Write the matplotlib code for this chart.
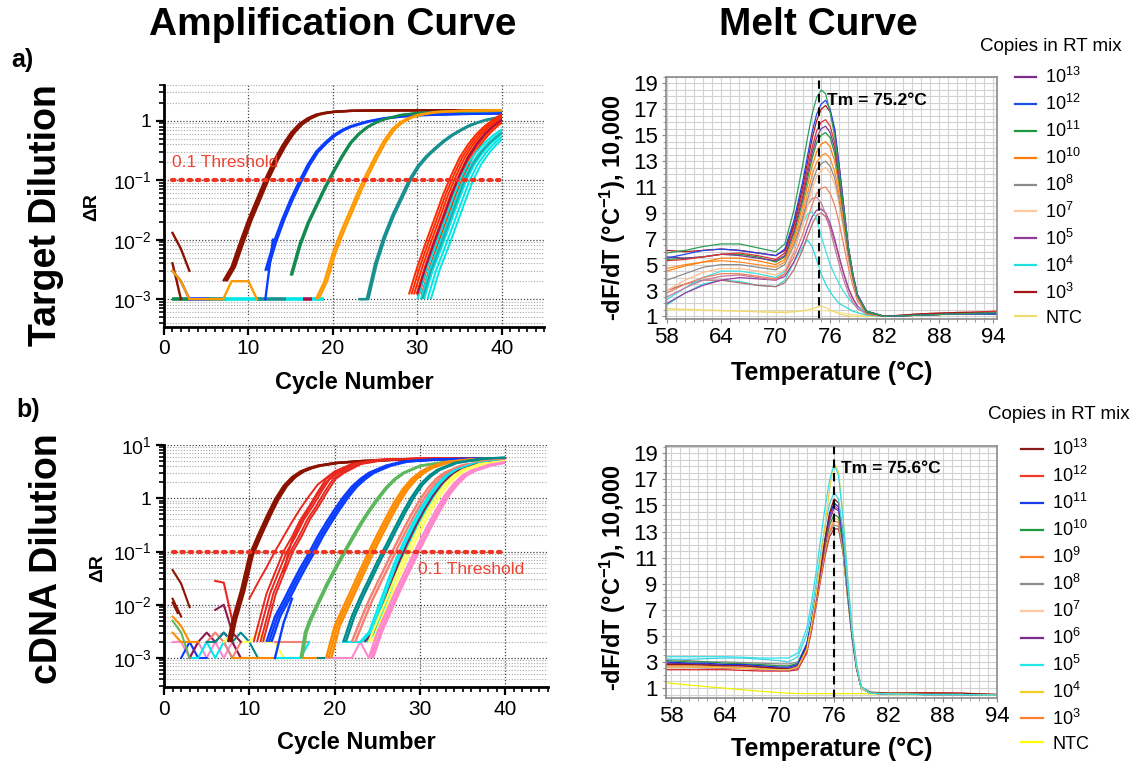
import numpy as np
import matplotlib
matplotlib.use("Agg")
import matplotlib.pyplot as plt
from matplotlib.lines import Line2D
from matplotlib.patches import Rectangle
from matplotlib.ticker import (MultipleLocator, FixedLocator, FixedFormatter,
                               LogLocator, NullFormatter)

plt.rcParams.update({
    "font.family": ["Liberation Sans", "DejaVu Sans"],
    "mathtext.fontset": "custom",
    "mathtext.rm": "Liberation Sans",
    "mathtext.bf": "Liberation Sans:bold",
    "mathtext.default": "regular",
})

# ---------- a) target dilution: amplification (cycle -> dR), replicate Ct offsets ----------
a13_cyc = [7, 8, 9, 10, 11, 12, 13, 14, 15, 16, 17, 18, 19, 20, 22, 25, 30, 40]
a13_dr = [0.002, 0.0035, 0.009, 0.022, 0.048, 0.105, 0.21, 0.38, 0.62, 0.88, 1.1, 1.27, 1.36, 1.42, 1.47, 1.49, 1.5, 1.5]
a13_rep = [0.0, 0.2, 0.4]

a12_cyc = [12, 13, 14, 15, 16, 17, 18, 19, 20, 21, 22, 24, 26, 28, 30, 35, 40]
a12_dr = [0.003, 0.009, 0.022, 0.048, 0.095, 0.18, 0.3, 0.42, 0.56, 0.69, 0.8, 0.97, 1.1, 1.18, 1.24, 1.3, 1.33]
a12_rep = [0.0, 0.25]
a12_start_cyc = [12, 12.9]
a12_start_dr = [0.001, 0.01]

a11_cyc = [15, 16, 17, 18, 19, 20, 21, 22, 23, 24, 25, 26, 28, 30, 33, 36, 40]
a11_dr = [0.0025, 0.008, 0.019, 0.038, 0.075, 0.14, 0.25, 0.42, 0.6, 0.78, 0.93, 1.06, 1.25, 1.35, 1.42, 1.45, 1.47]
a11_rep = [0.0, 0.15]

a10_cyc = [18, 19, 20, 21, 22, 23, 24, 25, 26, 27, 28, 29, 30, 32, 35, 40]
a10_dr = [0.001, 0.002, 0.006, 0.014, 0.03, 0.065, 0.13, 0.25, 0.45, 0.72, 0.95, 1.12, 1.25, 1.4, 1.47, 1.5]
a10_rep = [0.0, 0.3]

a8_cyc = [23, 24, 24.5, 25, 26, 27, 28, 29, 30, 31, 32, 33, 34, 35, 36, 37, 38, 40]
a8_dr = [0.001, 0.001, 0.002, 0.004, 0.011, 0.025, 0.05, 0.1, 0.17, 0.25, 0.34, 0.45, 0.57, 0.69, 0.82, 0.93, 1.03, 1.18]
a8_rep = [0.0, 0.2]

a5_cyc = [29, 30, 31, 32, 33, 34, 35, 36, 37, 38, 39, 40]
a5_dr = [0.0012, 0.0035, 0.009, 0.022, 0.055, 0.12, 0.24, 0.4, 0.6, 0.82, 1.05, 1.3]
a5_rep = [0.0, 0.3, 0.6, 0.9, 1.2, 1.5]
a5_crimson_rep = [1.0]

a4_cyc = [30, 31, 32, 33, 34, 35, 36, 37, 38, 39, 40]
a4_dr = [0.001, 0.003, 0.007, 0.017, 0.042, 0.1, 0.19, 0.3, 0.43, 0.57, 0.72]
a4_rep = [0.0, 0.4, 0.8, 1.2, 1.6]
a4_teal_rep = [0.6]

# early-cycle noise, target dilution
anoise_darkred1 = ([1, 2, 3], [0.013, 0.007, 0.003])
anoise_darkred2 = ([1, 2], [0.004, 0.001])
anoise_blue = ([1, 2, 3], [0.003, 0.002, 0.001])
anoise_orange = ([1, 2, 3, 7, 8, 10, 11], [0.003, 0.002, 0.001, 0.001, 0.002, 0.002, 0.001])
a_floor = 0.001
aflat_green = [1, 3]
aflat_blue = [3, 5.5]
aflat_teal = [5, 7.5]
aflat_cyan = [7, 11.5]
aflat_teal2 = [11, 14.5]
aflat_cyan2 = [14.5, 16.5]
aflat_crimson = [16.5, 17.5]
aflat_cyan3 = [17.5, 19]

# ---------- b) cDNA dilution: amplification ----------
b13_cyc = [7.5, 8, 9, 10, 11, 12, 13, 14, 15, 16, 17, 18, 20, 23, 27, 32, 40]
b13_dr = [0.002, 0.005, 0.018, 0.085, 0.2, 0.45, 0.95, 1.7, 2.5, 3.2, 3.7, 4.1, 4.6, 5.0, 5.3, 5.45, 5.5]
b13_rep = [0.0, 0.2, 0.4]

b12_cyc = [10.5, 11, 12, 13, 14, 15, 16, 17, 18, 19, 20, 22, 25, 30, 40]
b12_dr = [0.002, 0.004, 0.016, 0.04, 0.1, 0.19, 0.4, 0.7, 1.3, 2.3, 3.0, 4.4, 5.3, 5.6, 5.7]
b12_rep = [0.0, 0.4, 0.8, 1.1]
b12_x1_cyc = [10, 11, 12, 13, 14, 15, 16, 17, 18, 20, 22, 25, 30, 40]
b12_x1_dr = [0.013, 0.026, 0.05, 0.1, 0.19, 0.36, 0.65, 1.1, 1.8, 3.2, 4.4, 5.2, 5.6, 5.7]
b12_x2_cyc = [14, 14.6, 15, 16, 17, 18, 19, 20, 22, 25, 30, 40]
b12_x2_dr = [0.04, 0.1, 0.16, 0.35, 0.65, 1.2, 2.0, 2.8, 4.2, 5.2, 5.6, 5.7]

b11_cyc = [12, 13, 14, 15, 16, 17, 18, 19, 20, 21, 22, 23, 24, 26, 28, 32, 40]
b11_dr = [0.002, 0.006, 0.012, 0.025, 0.05, 0.095, 0.19, 0.35, 0.62, 1.05, 1.65, 2.3, 3.0, 4.1, 4.9, 5.4, 5.6]
b11_rep = [0.0, 0.3, 0.6]
b11_x1_cyc = [13, 14, 15]
b11_x1_dr = [0.001, 0.0045, 0.013]

b10_cyc = [16, 16.5, 17, 18, 19, 20, 21, 22, 23, 24, 25, 26, 27, 28, 30, 33, 36, 40]
b10_dr = [0.001, 0.003, 0.005, 0.011, 0.024, 0.048, 0.095, 0.18, 0.34, 0.6, 1.0, 1.6, 2.3, 3.0, 4.1, 4.8, 5.1, 5.2]
b10_rep = [0.0, 0.2]

b9_cyc = [19, 19.5, 20, 21, 22, 23, 24, 25, 26, 27, 28, 29, 30, 31, 33, 36, 40]
b9_dr = [0.001, 0.002, 0.004, 0.009, 0.02, 0.045, 0.1, 0.21, 0.43, 0.85, 1.5, 2.3, 3.1, 3.8, 4.8, 5.4, 5.6]
b9_rep = [0.0, 0.3, 0.6]

b8_cyc = [21, 22, 23, 24, 25, 26, 27, 28, 29, 30, 31, 32, 34, 37, 40]
b8_dr = [0.002, 0.006, 0.014, 0.03, 0.065, 0.13, 0.27, 0.55, 1.05, 1.8, 2.6, 3.4, 4.6, 5.5, 5.8]
b8_rep = [0.0, 0.3]

b7_cyc = [22, 23, 24, 25, 26, 27, 28, 29, 30, 31, 32, 33, 35, 38, 40]
b7_dr = [0.002, 0.005, 0.012, 0.026, 0.055, 0.12, 0.25, 0.5, 0.95, 1.6, 2.4, 3.1, 4.2, 5.0, 5.2]
b7_rep = [0.0, 0.4]

b5_cyc = [23, 24, 25, 26, 27, 28, 29, 30, 31, 32, 33, 34, 36, 38, 40]
b5_dr = [0.002, 0.003, 0.008, 0.022, 0.06, 0.14, 0.3, 0.6, 1.1, 1.8, 2.6, 3.3, 4.3, 4.8, 5.0]
b5_rep = [0.0, 0.3, 0.7]
b6_rep = [0.5]

b4_cyc = [24, 25, 26, 27, 28, 29, 30, 31, 32, 33, 34, 35, 37, 40]
b4_dr = [0.002, 0.005, 0.012, 0.03, 0.07, 0.15, 0.32, 0.63, 1.15, 1.9, 2.7, 3.4, 4.4, 5.0]
b4_rep = [0.0, 0.4]

b3_cyc = [24, 25, 26, 27, 28, 29, 30, 31, 32, 33, 34, 35, 36, 38, 40]
b3_dr = [0.001, 0.003, 0.007, 0.016, 0.035, 0.075, 0.16, 0.33, 0.65, 1.2, 1.9, 2.7, 3.3, 4.2, 4.8]
b3_rep = [0.0, 0.3, 0.5]

# early-cycle noise, cDNA dilution
bnoise_darkred1 = ([1, 2, 3], [0.045, 0.025, 0.009])
bnoise_darkred2 = ([1, 2], [0.013, 0.006])
bnoise_darkred3 = ([1, 1.6], [0.011, 0.007])
bnoise_red = ([6, 7, 8], [0.028, 0.026, 0.005])
bnoise_orange1 = ([1, 2, 3, 4], [0.006, 0.004, 0.002, 0.002])
bnoise_orange2 = ([1, 2, 3, 4], [0.003, 0.002, 0.002, 0.002])
bnoise_orange3 = ([8, 9, 10, 11, 17, 18], [0.001, 0.001, 0.001, 0.001, 0.001, 0.001])
bnoise_green = ([1, 2, 3], [0.005, 0.003, 0.001])
bnoise_blue = ([2, 3, 4, 5], [0.001, 0.002, 0.001, 0.001])
bnoise_pink1 = ([1, 2, 3, 4, 5, 6, 7, 8, 9, 10], [0.002, 0.002, 0.001, 0.002, 0.001, 0.002, 0.001, 0.002, 0.001, 0.001])
bnoise_pink2 = ([19, 22, 23, 24, 25], [0.001, 0.001, 0.002, 0.001, 0.002])
bnoise_cyan1 = ([3, 4, 5, 6, 7, 8, 9, 10], [0.001, 0.001, 0.002, 0.001, 0.002, 0.001, 0.001, 0.001])
bnoise_cyan2 = ([13, 14, 15, 16, 17], [0.001, 0.001, 0.001, 0.001, 0.002])
bnoise_cyan3 = ([21, 22, 23, 24], [0.002, 0.002, 0.002, 0.003])
bnoise_magenta1 = ([3, 4, 5, 6, 7, 8, 9], [0.001, 0.002, 0.003, 0.002, 0.003, 0.002, 0.001])
bnoise_magenta2 = ([6, 7, 8, 9], [0.008, 0.01, 0.003, 0.002])
bnoise_salmon1 = ([5, 6, 7, 8, 9], [0.002, 0.003, 0.002, 0.001, 0.002])
bnoise_salmon2 = ([13, 14, 15, 16, 17], [0.002, 0.002, 0.002, 0.002, 0.002])
bnoise_teal1 = ([5, 6, 7, 8, 9, 10, 11], [0.002, 0.002, 0.003, 0.002, 0.003, 0.002, 0.001])
bnoise_teal2 = ([18, 21], [0.001, 0.001])
bnoise_yellow = ([7, 8, 9, 10, 11, 12, 13, 14, 15], [0.002, 0.003, 0.002, 0.002, 0.003, 0.002, 0.002, 0.001, 0.001])

threshold = 0.1
threshold_span = [1, 40]

# ---------- a) melt curve (temperature -> -dF/dT) ----------
ma_T = [58, 60, 62, 64, 66, 68, 70, 71, 72, 73, 73.5, 74, 74.5, 75, 75.5, 76, 76.5,
        77, 77.5, 78, 78.5, 79, 80, 82, 86, 90, 94.4]
ma_green = [5.9, 6.1, 6.4, 6.6, 6.6, 6.3, 6.0, 6.6, 9.2, 12.8, 14.8, 16.6, 17.9, 18.5, 18.2, 16.8, 14.9, 12.2, 9.2, 6.3, 4.2, 2.6, 1.4, 1.0, 1.1, 1.2, 1.3]
ma_blue = [5.5, 5.8, 6.1, 6.2, 6.1, 5.9, 5.7, 6.2, 8.4, 11.5, 13.4, 15.2, 16.6, 17.4, 17.7, 17.0, 15.5, 12.6, 9.5, 6.4, 4.3, 2.7, 1.4, 1.0, 1.1, 1.2, 1.2]
ma_darkred = [6.1, 6.0, 6.1, 6.2, 6.1, 5.9, 5.7, 6.1, 8.1, 11.1, 12.9, 14.7, 16.1, 17.0, 17.3, 16.8, 15.4, 12.6, 9.5, 6.4, 4.3, 2.7, 1.4, 1.0, 1.2, 1.3, 1.3]
ma_red = [5.3, 5.4, 5.6, 5.8, 5.9, 5.7, 5.4, 5.9, 7.9, 10.7, 12.4, 14.0, 15.3, 16.0, 16.2, 15.7, 14.4, 12.0, 9.2, 6.3, 4.2, 2.6, 1.4, 1.0, 1.2, 1.3, 1.4]
ma_purple13 = [5.6, 5.5, 5.6, 5.8, 5.7, 5.5, 5.3, 5.7, 7.6, 10.3, 12.0, 13.6, 14.8, 15.5, 15.7, 15.2, 14.0, 11.7, 9.0, 6.2, 4.2, 2.6, 1.4, 1.0, 1.1, 1.2, 1.2]
ma_green11 = [5.4, 5.5, 5.6, 5.8, 5.8, 5.6, 5.2, 5.6, 7.4, 10.0, 11.6, 13.2, 14.4, 15.0, 15.2, 14.8, 13.6, 11.4, 8.8, 6.1, 4.1, 2.6, 1.3, 1.0, 1.1, 1.2, 1.2]
ma_orange = [4.5, 4.9, 5.2, 5.5, 5.5, 5.3, 5.0, 5.4, 7.1, 9.6, 11.1, 12.6, 13.7, 14.3, 14.5, 14.1, 13.0, 11.0, 8.6, 6.0, 4.1, 2.6, 1.3, 1.0, 1.1, 1.2, 1.4]
ma_orange2 = [4.7, 5.0, 5.2, 5.3, 5.2, 5.0, 4.8, 5.2, 6.8, 9.1, 10.5, 11.9, 12.9, 13.4, 13.6, 13.2, 12.2, 10.4, 8.2, 5.8, 4.0, 2.5, 1.3, 1.0, 1.1, 1.2, 1.4]
ma_gray = [3.8, 4.3, 4.8, 5.0, 5.0, 4.8, 4.6, 5.0, 6.5, 8.7, 10.0, 11.3, 12.3, 12.8, 13.0, 12.6, 11.7, 10.0, 7.9, 5.6, 3.9, 2.5, 1.3, 1.0, 1.1, 1.2, 1.3]
ma_peach = [3.0, 3.8, 4.4, 4.7, 4.7, 4.5, 4.2, 4.6, 6.1, 8.2, 9.5, 10.8, 11.8, 12.3, 12.5, 12.1, 11.2, 9.6, 7.6, 5.4, 3.8, 2.4, 1.3, 1.0, 1.1, 1.2, 1.3]
ma_salmon = [2.8, 3.5, 4.0, 4.3, 4.3, 4.1, 3.9, 4.3, 5.6, 7.4, 8.5, 9.6, 10.5, 10.9, 11.0, 10.5, 9.6, 8.2, 6.5, 4.8, 3.4, 2.2, 1.2, 1.0, 1.1, 1.2, 1.3]
ma_mauve = [2.5, 3.2, 3.8, 4.1, 4.2, 4.0, 3.8, 4.3, 6.0, 8.6, 9.6, 10.1, 10.2, 9.8, 8.9, 7.7, 6.3, 5.0, 3.8, 2.8, 2.1, 1.6, 1.2, 1.0, 1.1, 1.2, 1.3]
ma_purple5 = [2.0, 2.8, 3.4, 3.8, 4.0, 3.9, 3.8, 4.1, 5.2, 6.8, 7.8, 8.7, 9.2, 9.3, 9.0, 8.2, 7.0, 5.6, 4.3, 3.2, 2.4, 1.8, 1.2, 1.0, 1.1, 1.2, 1.2]
ma_brown = [3.0, 3.5, 3.8, 3.8, 3.6, 3.4, 3.3, 3.6, 4.6, 6.2, 7.2, 8.1, 8.8, 9.0, 8.7, 7.9, 6.8, 5.5, 4.3, 3.2, 2.4, 1.8, 1.2, 1.0, 1.1, 1.2, 1.2]
ma_cyan = [2.3, 3.2, 4.0, 4.5, 4.5, 4.3, 4.0, 4.5, 6.0, 8.2, 8.9, 9.1, 8.6, 7.2, 6.1, 5.0, 4.2, 3.5, 2.9, 2.4, 2.0, 1.7, 1.3, 1.0, 1.1, 1.2, 1.2]
ma_cyan2 = [1.9, 2.8, 3.5, 3.8, 3.7, 3.4, 3.3, 3.8, 5.2, 6.4, 6.9, 6.4, 5.4, 4.3, 3.5, 2.9, 2.4, 2.0, 1.8, 1.6, 1.4, 1.3, 1.1, 1.0, 1.1, 1.2, 1.2]
ma_ntc = [1.6, 1.55, 1.5, 1.45, 1.4, 1.35, 1.3, 1.3, 1.35, 1.45, 1.5, 1.6, 1.7, 1.8, 1.7, 1.5, 1.35, 1.2, 1.1, 1.05, 1.0, 1.0, 1.0, 1.0, 1.1, 1.2, 1.3]
ma_ntc2 = [1.5, 1.48, 1.46, 1.44, 1.42, 1.4, 1.38, 1.38, 1.4, 1.42, 1.44, 1.46, 1.46, 1.46, 1.44, 1.4, 1.36, 1.3, 1.25, 1.2, 1.15, 1.1, 1.05, 1.05, 1.1, 1.15, 1.2]
ma_tm_label = "Tm = 75.2°C"
ma_tm_line = 74.8

# ---------- b) melt curve ----------
mb_T = [57.5, 60, 62, 64, 66, 68, 70, 71, 72, 73, 73.5, 74, 74.5, 75, 75.5, 76, 76.5,
        77, 77.5, 78, 78.5, 79, 80, 82, 86, 90, 93.9]
mb_cyan = [3.4, 3.4, 3.4, 3.4, 3.35, 3.3, 3.3, 3.3, 3.7, 5.6, 7.5, 9.8, 12.3, 14.8, 16.9, 18.2, 17.3, 14.0, 9.5, 5.6, 2.8, 1.1, 0.6, 0.55, 0.5, 0.5, 0.45]
mb_cyan2 = [3.2, 3.2, 3.25, 3.3, 3.3, 3.2, 3.1, 3.0, 3.4, 5.1, 6.8, 8.9, 11.2, 13.4, 15.1, 16.0, 15.5, 12.8, 8.8, 5.2, 2.6, 1.0, 0.6, 0.55, 0.5, 0.5, 0.45]
mb_blue = [3.0, 2.9, 2.9, 2.8, 2.8, 2.7, 2.6, 2.6, 2.8, 4.4, 6.1, 8.1, 10.2, 12.4, 14.2, 15.2, 14.9, 12.5, 8.6, 5.1, 2.6, 1.0, 0.6, 0.55, 0.5, 0.5, 0.45]
mb_darkred = [2.8, 2.8, 2.75, 2.7, 2.7, 2.6, 2.5, 2.45, 2.6, 4.1, 5.8, 7.9, 10.1, 12.4, 14.4, 15.5, 15.2, 12.8, 8.8, 5.2, 2.6, 1.0, 0.65, 0.6, 0.6, 0.6, 0.5]
mb_purple = [2.9, 2.85, 2.8, 2.75, 2.7, 2.6, 2.5, 2.5, 2.7, 4.2, 5.9, 7.8, 9.9, 12.0, 13.8, 14.8, 14.6, 12.3, 8.5, 5.0, 2.5, 1.0, 0.6, 0.55, 0.5, 0.5, 0.45]
mb_green = [3.1, 3.0, 3.0, 2.9, 2.85, 2.8, 2.7, 2.7, 2.9, 4.3, 6.0, 7.9, 9.9, 11.8, 13.5, 14.3, 14.1, 11.9, 8.3, 4.9, 2.5, 1.0, 0.6, 0.55, 0.5, 0.5, 0.45]
mb_orange = [2.7, 2.7, 2.65, 2.6, 2.55, 2.5, 2.45, 2.4, 2.5, 3.9, 5.5, 7.4, 9.4, 11.4, 13.0, 13.8, 13.7, 11.7, 8.2, 4.9, 2.5, 1.0, 0.6, 0.6, 0.6, 0.55, 0.5]
mb_gray = [3.2, 3.1, 3.0, 3.0, 2.95, 2.9, 2.85, 2.85, 3.0, 4.4, 6.0, 7.8, 9.7, 11.4, 12.9, 13.5, 13.4, 11.4, 8.0, 4.8, 2.5, 1.1, 0.7, 0.6, 0.55, 0.5, 0.5]
mb_red = [2.4, 2.4, 2.4, 2.4, 2.35, 2.3, 2.3, 2.3, 2.4, 3.7, 5.3, 7.2, 9.2, 11.1, 12.6, 13.2, 13.2, 11.4, 8.0, 4.8, 2.4, 1.0, 0.65, 0.6, 0.65, 0.6, 0.5]
mb_peach = [2.9, 2.9, 2.85, 2.8, 2.8, 2.7, 2.6, 2.6, 2.8, 4.2, 5.8, 7.7, 9.7, 11.7, 13.3, 14.0, 13.9, 11.8, 8.3, 4.9, 2.5, 1.0, 0.6, 0.55, 0.5, 0.5, 0.45]
mb_gold = [2.6, 2.6, 2.6, 2.55, 2.5, 2.45, 2.4, 2.4, 2.6, 4.0, 5.8, 8.0, 10.6, 13.4, 16.2, 18.3, 17.6, 14.2, 9.6, 5.6, 2.7, 1.0, 0.6, 0.55, 0.5, 0.5, 0.45]
mb_magenta = [2.6, 2.6, 2.55, 2.5, 2.5, 2.4, 2.35, 2.35, 2.5, 4.0, 5.7, 7.7, 9.8, 12.0, 13.9, 15.0, 14.7, 12.4, 8.6, 5.1, 2.6, 1.0, 0.6, 0.55, 0.5, 0.5, 0.45]
mb_ntc = [1.4, 1.22, 1.1, 0.98, 0.86, 0.74, 0.64, 0.6, 0.58, 0.57, 0.57, 0.57, 0.57, 0.57, 0.57, 0.57, 0.57, 0.57, 0.57, 0.57, 0.57, 0.57, 0.55, 0.5, 0.5, 0.5, 0.45]
mb_tm_label = "Tm = 75.6°C"
mb_tm_line = 76.0

# legends
legend_title = "Copies in RT mix"
legend_a_labels = ["$10^{13}$", "$10^{12}$", "$10^{11}$", "$10^{10}$", "$10^{8}$",
                   "$10^{7}$", "$10^{5}$", "$10^{4}$", "$10^{3}$", "NTC"]
legend_b_labels = ["$10^{13}$", "$10^{12}$", "$10^{11}$", "$10^{10}$", "$10^{9}$", "$10^{8}$",
                   "$10^{7}$", "$10^{6}$", "$10^{5}$", "$10^{4}$", "$10^{3}$", "NTC"]

# ---------------------------------------------------------------- colours
C = {
    "darkred": "#8b1200", "blue": "#0a3cff", "green": "#138a50", "orange": "#ff9900",
    "teal": "#17908f", "red": "#ff2a00", "crimson": "#a8104a", "cyan": "#00e5e5",
    "teal2": "#20a8a8",
    "b_red": "#e8281e", "b_lgreen": "#5cb85c", "b_orange": "#ff8c00", "b_teal": "#008b8b",
    "b_salmon": "#f47f72", "b_cyan": "#00e8f0", "b_magenta": "#8b1a50",
    "b_yellow": "#ffff55", "b_pink": "#ff88cc",
}
legend_a_colors = ["#7d2c8c", "#1f4fe8", "#1a9a3c", "#ff7f0e", "#8c8c8c",
                   "#ffc8a0", "#8e3a96", "#22e0e0", "#a8141a", "#f0dc70"]
legend_b_colors = ["#8b1a1a", "#ee3a2a", "#1a3ce8", "#1a9a3c", "#ff7f27", "#8c8c8c",
                   "#ffc8a0", "#7d2c8c", "#22e8e8", "#f0d020", "#ff8030", "#ffff00"]

fig = plt.figure(figsize=(11.4, 7.69), dpi=100)
ax_aa = fig.add_axes([0.1439, 0.5748, 0.3333, 0.3147])
ax_ba = fig.add_axes([0.1439, 0.1066, 0.3368, 0.3147])
ax_am = fig.add_axes([0.5842, 0.5852, 0.2904, 0.3147])
ax_bm = fig.add_axes([0.5842, 0.0923, 0.2904, 0.3277])


def draw_group(ax, cyc, dr, shifts, color, lw=1.7):
    clip = Rectangle((0, 1e-6), 40, 1e3, transform=ax.transData)
    for s in shifts:
        ln, = ax.plot(np.add(cyc, s), dr, color=color, lw=lw, solid_capstyle="butt")
        ln.set_clip_path(clip)


def style_amp(ax, ylim, yticks, ylabels):
    ax.set_yscale("log")
    ax.set_xlim(0, 45)
    ax.set_ylim(*ylim)
    ax.set_xticks([0, 10, 20, 30, 40])
    ax.xaxis.set_minor_locator(MultipleLocator(1))
    ax.yaxis.set_major_locator(FixedLocator(yticks))
    ax.yaxis.set_major_formatter(FixedFormatter(ylabels))
    ax.yaxis.set_minor_locator(LogLocator(base=10, subs=np.arange(2, 10), numticks=30))
    ax.yaxis.set_minor_formatter(NullFormatter())
    for s in ["top", "right"]:
        ax.spines[s].set_visible(False)
    for s in ["left", "bottom"]:
        ax.spines[s].set_linewidth(2)
    ax.tick_params(which="major", direction="out", length=6, width=1.6, pad=3)
    ax.tick_params(which="minor", direction="out", length=3.5, width=1.2)
    ax.tick_params(axis="y", labelsize=14)
    ax.tick_params(axis="x", labelsize=15)
    ax.grid(True, which="major", linestyle=(0, (1, 1.5)), color="#444444", lw=0.9)
    ax.grid(True, which="minor", axis="y", linestyle=(0, (1, 1.5)), color="#a8a8a8", lw=0.8)
    ax.set_axisbelow(True)
    ax.set_xlabel("Cycle Number", fontsize=17, fontweight="bold")
    ax.xaxis.set_label_coords(0.5, -0.182)
    ax.set_ylabel("ΔR", fontsize=14, fontweight="bold")


def style_melt(ax, xlim, ylim):
    ax.set_xlim(*xlim)
    ax.set_ylim(*ylim)
    ax.set_xticks(range(58, 95, 6))
    ax.set_yticks(range(1, 20, 2))
    ax.xaxis.set_minor_locator(MultipleLocator(1))
    ax.yaxis.set_minor_locator(MultipleLocator(0.5))
    ax.grid(True, which="both", color="#d2d2d2", lw=0.8)
    ax.set_axisbelow(True)
    for s in ax.spines.values():
        s.set_color("#8a8a8a")
        s.set_linewidth(1.2)
    ax.tick_params(which="major", length=3, color="#8a8a8a", labelsize=16, pad=3)
    ax.tick_params(which="minor", length=2, color="#8a8a8a")
    ax.set_xlabel("Temperature (°C)", fontsize=18, fontweight="bold")
    ax.set_ylabel("-dF/dT (°C$^{-1}$), 10,000", fontsize=17, fontweight="bold")


# ---------------------------------------------------------------- a) amplification
ax = ax_aa
for xs, col in [(aflat_green, "green"), (aflat_blue, "blue"), (aflat_teal, "teal"),
                (aflat_cyan, "cyan"), (aflat_teal2, "teal"), (aflat_cyan2, "cyan"),
                (aflat_crimson, "crimson"), (aflat_cyan3, "cyan")]:
    ax.plot(xs, [a_floor, a_floor], color=C[col], lw=2.6, solid_capstyle="butt")
for (cx, vy), col in [(anoise_darkred1, "darkred"), (anoise_darkred2, "darkred"),
                      (anoise_blue, "blue"), (anoise_orange, "orange")]:
    ax.plot(cx, vy, color=C[col], lw=1.7)
draw_group(ax, a13_cyc, a13_dr, a13_rep, C["darkred"])
draw_group(ax, a12_cyc, a12_dr, a12_rep, C["blue"])
ax.plot(a12_start_cyc, a12_start_dr, color=C["blue"], lw=1.7)
draw_group(ax, a11_cyc, a11_dr, a11_rep, C["green"])
draw_group(ax, a10_cyc, a10_dr, a10_rep, C["orange"])
draw_group(ax, a8_cyc, a8_dr, a8_rep, C["teal"])
draw_group(ax, a5_cyc, a5_dr, a5_rep, C["red"], lw=1.4)
draw_group(ax, a4_cyc, a4_dr, a4_rep, C["cyan"], lw=1.4)
draw_group(ax, a4_cyc, a4_dr, a4_teal_rep, C["teal2"], lw=1.4)
draw_group(ax, a5_cyc, a5_dr, a5_crimson_rep, C["crimson"], lw=1.4)
ax.plot(threshold_span, [threshold, threshold], color="#ee3322", lw=3,
        linestyle=(0, (0.6, 1.4)), dash_capstyle="round")
ax.text(1.0, 0.2, "0.1 Threshold", color="#ee4433", fontsize=12.5, va="center", ha="left")
style_amp(ax, (3.4e-4, 4.0), [1e-3, 1e-2, 1e-1, 1],
          ["$10^{-3}$", "$10^{-2}$", "$10^{-1}$", "1"])
ax.yaxis.set_label_coords(-0.168, 0.496)

# ---------------------------------------------------------------- b) amplification
ax = ax_ba
noise_b = [(bnoise_pink1, "b_pink"), (bnoise_blue, "blue"), (bnoise_cyan1, "b_cyan"),
           (bnoise_magenta1, "b_magenta"), (bnoise_salmon1, "b_salmon"),
           (bnoise_teal1, "b_teal"), (bnoise_yellow, "b_yellow"),
           (bnoise_orange1, "b_orange"), (bnoise_orange2, "b_orange"),
           (bnoise_orange3, "b_orange"), (bnoise_green, "b_lgreen"),
           (bnoise_salmon2, "b_salmon"), (bnoise_cyan2, "b_cyan"),
           (bnoise_teal2, "b_teal"), (bnoise_pink2, "b_pink"), (bnoise_cyan3, "b_cyan"),
           (bnoise_magenta2, "b_magenta"), (bnoise_red, "b_red"),
           (bnoise_darkred1, "darkred"), (bnoise_darkred2, "darkred"),
           (bnoise_darkred3, "darkred")]
for (cx, vy), col in noise_b:
    ax.plot(cx, vy, color=C[col], lw=1.5)
draw_group(ax, b13_cyc, b13_dr, b13_rep, C["darkred"])
draw_group(ax, b12_cyc, b12_dr, b12_rep, C["b_red"], lw=1.4)
ax.plot(b12_x1_cyc, b12_x1_dr, color=C["b_red"], lw=1.4)
ax.plot(b12_x2_cyc, b12_x2_dr, color=C["b_red"], lw=1.4)
draw_group(ax, b11_cyc, b11_dr, b11_rep, C["blue"])
ax.plot(b11_x1_cyc, b11_x1_dr, color=C["blue"], lw=1.7)
draw_group(ax, b10_cyc, b10_dr, b10_rep, C["b_lgreen"])
draw_group(ax, b9_cyc, b9_dr, b9_rep, C["b_orange"])
draw_group(ax, b8_cyc, b8_dr, b8_rep, C["b_teal"])
draw_group(ax, b7_cyc, b7_dr, b7_rep, C["b_salmon"])
draw_group(ax, b5_cyc, b5_dr, b5_rep, C["b_cyan"])
draw_group(ax, b5_cyc, b5_dr, b6_rep, C["b_magenta"], lw=1.3)
draw_group(ax, b4_cyc, b4_dr, b4_rep, C["b_yellow"])
draw_group(ax, b3_cyc, b3_dr, b3_rep, C["b_pink"])
ax.plot(threshold_span, [threshold, threshold], color="#ee3322", lw=3,
        linestyle=(0, (0.6, 1.4)), dash_capstyle="round")
ax.text(29.8, 0.046, "0.1 Threshold", color="#ee4433", fontsize=12.5, va="center", ha="left")
style_amp(ax, (2.85e-4, 10), [1e-3, 1e-2, 1e-1, 1, 10],
          ["$10^{-3}$", "$10^{-2}$", "$10^{-1}$", "1", "$10^{1}$"])
ax.yaxis.set_label_coords(-0.151, 0.49)

# ---------------------------------------------------------------- a) melt
ax = ax_am
melt_a = [(ma_ntc2, "#f5e6a0"), (ma_ntc, "#f0d870"), (ma_cyan2, "#30d8d8"),
          (ma_brown, "#b86a6a"), (ma_purple5, "#9b3fa0"), (ma_cyan, "#40e0e0"),
          (ma_mauve, "#c878a0"), (ma_salmon, "#f08060"), (ma_peach, "#ffbf90"),
          (ma_gray, "#8c8c8c"), (ma_orange2, "#ff8c28"), (ma_orange, "#ff7f0e"),
          (ma_green11, "#1f9a3a"), (ma_purple13, "#7a3a96"), (ma_red, "#dd3333"),
          (ma_darkred, "#b01818"), (ma_blue, "#2244ee"), (ma_green, "#2e9e5a")]
for vals, col in melt_a:
    ax.plot(ma_T, vals, color=col, lw=0.9)
ax.axvline(ma_tm_line, color="black", lw=1.5, linestyle=(0, (4, 2.5)))
ax.text(ma_tm_line + 0.8, 17.7, ma_tm_label, fontsize=12.5, fontweight="bold",
        va="center", ha="left")
style_melt(ax, (57.9, 94.4), (0.8, 19.5))
ax.yaxis.set_label_coords(-0.115, 0.46)
ax.xaxis.set_label_coords(0.5, -0.172)

# ---------------------------------------------------------------- b) melt
ax = ax_bm
melt_b = [(mb_ntc, "#f0f000"), (mb_red, "#d42020"), (mb_gray, "#8a8a8a"),
          (mb_orange, "#ff8020"), (mb_peach, "#ffc090"), (mb_green, "#2a9a3a"),
          (mb_purple, "#7a2a8a"), (mb_magenta, "#b050a0"), (mb_blue, "#1a2ee8"),
          (mb_darkred, "#8b1a1a"), (mb_cyan2, "#40d0e0"), (mb_gold, "#f5d040"),
          (mb_cyan, "#33e0e8")]
for vals, col in melt_b:
    ax.plot(mb_T, vals, color=col, lw=0.9)
ax.axvline(mb_tm_line, color="black", lw=1.5, linestyle=(0, (4, 2.5)))
ax.text(mb_tm_line + 0.75, 17.8, mb_tm_label, fontsize=12.5, fontweight="bold",
        va="center", ha="left")
style_melt(ax, (57.45, 94.0), (0.23, 19.56))
ax.yaxis.set_label_coords(-0.115, 0.48)
ax.xaxis.set_label_coords(0.5, -0.155)

# ---------------------------------------------------------------- legends
for labels, colors, anchor, title_xy in [
        (legend_a_labels, legend_a_colors, (0.890, 0.913), (0.922, 0.9389)),
        (legend_b_labels, legend_b_colors, (0.896, 0.429), (0.929, 0.4616))]:
    handles = [Line2D([], [], color=c, lw=1.6) for c in colors]
    fig.legend(handles, labels, loc="upper left", bbox_to_anchor=anchor,
               frameon=False, fontsize=13, handlelength=1.2, handletextpad=0.5,
               labelspacing=0.38, borderaxespad=0, borderpad=0)
    fig.text(title_xy[0], title_xy[1], legend_title, fontsize=13.5,
             ha="center", va="center")

# ---------------------------------------------------------------- headings
fig.text(0.292, 0.9675, "Amplification Curve", fontsize=28, fontweight="bold",
         ha="center", va="center")
fig.text(0.7175, 0.9675, "Melt Curve", fontsize=28, fontweight="bold",
         ha="center", va="center")
fig.text(0.0193, 0.922, "a)", fontsize=18, fontweight="bold", ha="center", va="center")
fig.text(0.0246, 0.467, "b)", fontsize=18, fontweight="bold", ha="center", va="center")
fig.text(0.0404, 0.7204, "Target Dilution", fontsize=27, fontweight="bold",
         rotation=90, ha="center", va="center")
fig.text(0.0412, 0.273, "cDNA Dilution", fontsize=27, fontweight="bold",
         rotation=90, ha="center", va="center")

fig.savefig("out.png", dpi=100)
